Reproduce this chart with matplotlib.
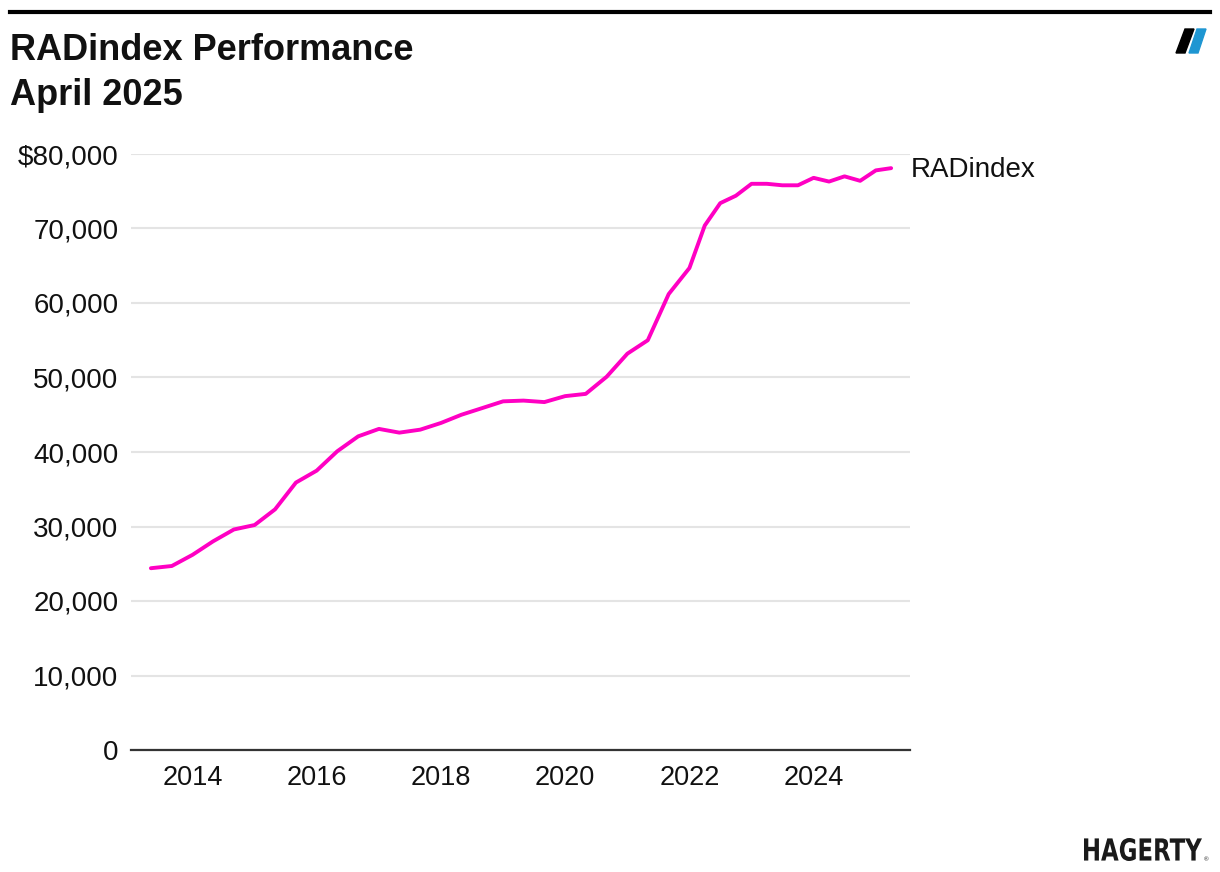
import matplotlib
matplotlib.use("Agg")
import matplotlib.pyplot as plt
from matplotlib.patches import Polygon, PathPatch
from matplotlib.textpath import TextPath
from matplotlib.font_manager import FontProperties
from matplotlib.transforms import Affine2D, IdentityTransform
from matplotlib.lines import Line2D
import pandas as pd

# RADindex values (Jan/May/Sep until 2022, then quarterly)
dates = ["2013-05", "2013-09",
         "2014-01", "2014-05", "2014-09",
         "2015-01", "2015-05", "2015-09",
         "2016-01", "2016-05", "2016-09",
         "2017-01", "2017-05", "2017-09",
         "2018-01", "2018-05", "2018-09",
         "2019-01", "2019-05", "2019-09",
         "2020-01", "2020-05", "2020-09",
         "2021-01", "2021-05", "2021-09",
         "2022-01", "2022-04", "2022-07", "2022-10",
         "2023-01", "2023-04", "2023-07", "2023-10",
         "2024-01", "2024-04", "2024-07", "2024-10",
         "2025-01", "2025-04"]
values = [24400, 24700,
          26200, 28000, 29600,
          30200, 32300, 35900,
          37500, 40100, 42100,
          43100, 42600, 43000,
          43900, 45000, 45900,
          46800, 46900, 46700,
          47500, 47800, 50100,
          53200, 55000, 61200,
          64700, 70400, 73400, 74400,
          76000, 76000, 75800, 75800,
          76800, 76300, 77000, 76400,
          77800, 78100]
series_name = "RADindex"
tick_years = [2014, 2016, 2018, 2020, 2022, 2024]
y_ticks = [0, 10000, 20000, 30000, 40000, 50000, 60000, 70000, 80000]
y_labels = ["0", "10,000", "20,000", "30,000", "40,000", "50,000",
            "60,000", "70,000", "$80,000"]

W, H = 1220, 872
TXT = "#111111"
MAGENTA = "#ff00c3"
plt.rcParams["font.family"] = ["Liberation Sans", "DejaVu Sans"]

x = pd.to_datetime(dates)

fig = plt.figure(figsize=(W / 100, H / 100), dpi=100)
ax = fig.add_axes([131 / W, 122 / H, 779 / W, 596 / H])

ax.plot(x, values, color=MAGENTA, lw=2.8, solid_joinstyle="round",
        solid_capstyle="round", zorder=3)
ax.annotate(series_name, (x[-1], values[-1]), xytext=(14, -1),
            textcoords="offset points", va="center", ha="left",
            fontsize=20, color=TXT)

ax.set_ylim(0, 80000)
ax.set_xlim(pd.Timestamp("2013-01-04"), pd.Timestamp("2025-07-21"))
ax.set_yticks(y_ticks)
ax.set_yticklabels(y_labels)
ax.set_xticks([pd.Timestamp(f"{y}-01-01") for y in tick_years])
ax.set_xticklabels([str(y) for y in tick_years])
ax.tick_params(axis="both", length=0, labelcolor=TXT)
ax.tick_params(axis="y", pad=9, labelsize=20)
ax.tick_params(axis="x", pad=11, labelsize=19.5)

ax.grid(axis="y", color="#e4e4e4", lw=1.5)
ax.grid(axis="x", visible=False)
ax.set_axisbelow(True)
for s in ["top", "left", "right"]:
    ax.spines[s].set_visible(False)
ax.spines["bottom"].set_color("#333333")
ax.spines["bottom"].set_linewidth(1.6)
ax.spines["bottom"].set_zorder(4)

# top rule
fig.add_artist(Line2D([10 / W, 1210 / W], [1 - 12 / H, 1 - 12 / H],
                      color="black", lw=3, transform=fig.transFigure))

# title
fig.text(10 / W, 1 - 60 / H, "RADindex Performance", fontsize=26,
         fontweight="bold", color=TXT, va="baseline", ha="left")
fig.text(10 / W, 1 - 105 / H, "April 2025", fontsize=26,
         fontweight="bold", color=TXT, va="baseline", ha="left")

# logo mark top right
def px(pts):
    return [(a / W, 1 - b / H) for a, b in pts]

fig.add_artist(Polygon(px([(1185, 29), (1194, 29), (1185, 53), (1176, 53)]),
                       closed=True, color="black", transform=fig.transFigure))
fig.add_artist(Polygon(px([(1197, 29), (1206, 29), (1198, 53), (1189, 53)]),
                       closed=True, color="#1e96d2", transform=fig.transFigure))

# HAGERTY wordmark bottom right
tp = TextPath((0, 0), "HAGERTY", size=1,
              prop=FontProperties(family="DejaVu Sans", weight="bold"))
ext = tp.get_extents()
sx = 118 / ext.width
sy = 23 / ext.height
tr = Affine2D().translate(-ext.x0, -ext.y0).scale(sx, sy).translate(1084, H - 861)
fig.add_artist(PathPatch(tp, transform=tr + IdentityTransform(),
                         color="#1a1a1a", lw=0))
fig.text(1204 / W, 1 - 861 / H, "®", fontsize=4.5, color="#1a1a1a",
         ha="left", va="baseline")

fig.savefig("out.png", dpi=100)
